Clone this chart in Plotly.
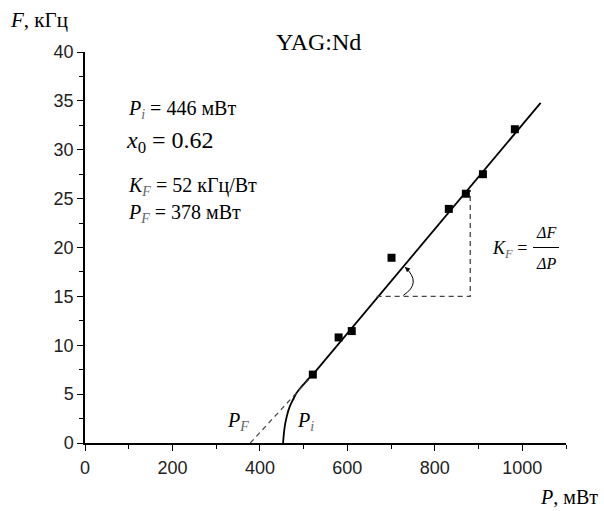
import plotly.graph_objects as go

# ---- data ----
P_data = [521, 580, 610, 701, 832, 871, 910, 983]          # mW
F_data = [7.0, 10.8, 11.45, 18.95, 23.95, 25.5, 27.5, 32.1]  # kHz

curve_P = [453, 455, 458, 463, 468, 476, 483, 492, 502, 512, 521]
curve_F = [0.0, 1.05, 2.0, 3.0, 3.7, 4.45, 5.05, 5.6, 6.1, 6.6, 7.0]
line_P = [521, 1042]
line_F = [7.0, 34.8]
dash_P = [378, 518]
dash_F = [0.0, 6.8]
tri_P = [667, 881, 881]
tri_F = [15.0, 15.0, 25.9]

x_ticks = [0, 200, 400, 600, 800, 1000]
y_ticks = [0, 5, 10, 15, 20, 25, 30, 35, 40]

W, H = 604, 511
ML, MR, MT, MB = 85, 38, 52, 68
XR = [0, 1100]
YR = [0, 40]
sx = (W - ML - MR) / (XR[1] - XR[0])
sy = (H - MT - MB) / (YR[1] - YR[0])

SERIF = "Liberation Serif, Times New Roman, serif"
SANS = "Liberation Sans, Arial, sans-serif"

fig = go.Figure()
fig.add_trace(go.Scatter(x=curve_P, y=curve_F, mode="lines",
                         line=dict(color="black", width=1.8, shape="spline"),
                         hoverinfo="skip", showlegend=False))
fig.add_trace(go.Scatter(x=line_P, y=line_F, mode="lines",
                         line=dict(color="black", width=1.8),
                         hoverinfo="skip", showlegend=False))
fig.add_trace(go.Scatter(x=dash_P, y=dash_F, mode="lines",
                         line=dict(color="#444", width=1.2, dash="5px,4px"),
                         hoverinfo="skip", showlegend=False))
fig.add_trace(go.Scatter(x=tri_P, y=tri_F, mode="lines",
                         line=dict(color="#444", width=1.3, dash="5px,4px"),
                         hoverinfo="skip", showlegend=False))
fig.add_trace(go.Scatter(x=P_data, y=F_data, mode="markers",
                         marker=dict(symbol="square", size=8, color="black"),
                         showlegend=False))

# angle arc (pixel offsets from vertex converted to data units)
vx, vy = tri_P[0], tri_F[0]
def pt(dx, dy):
    return vx + dx / sx, vy + dy / sy
A = pt(26.6, 1.0)
B = pt(36.6, 14.3)
C = pt(28.3, 29.3)
ctrl = (2 * B[0] - (A[0] + C[0]) / 2, 2 * B[1] - (A[1] + C[1]) / 2)
fig.add_shape(type="path",
              path=f"M {A[0]},{A[1]} Q {ctrl[0]},{ctrl[1]} {C[0]},{C[1]}",
              line=dict(color="black", width=1))
fig.add_annotation(x=C[0], y=C[1], ax=5.2, ay=4.7, text="", showarrow=True,
                   arrowhead=2, arrowsize=1, arrowwidth=1, standoff=0,
                   arrowcolor="black")

def txt(x, y, s, size=18, xanchor="left", yanchor="middle", xref="x", yref="y"):
    fig.add_annotation(x=x, y=y, text=s, showarrow=False, xref=xref, yref=yref,
                       xanchor=xanchor, yanchor=yanchor,
                       font=dict(family=SERIF, size=size, color="black"))

def ypx(py):
    return (H - MB - py) / sy

def xpx(px):
    return (px - ML) / sx

SUBC = "<span style='color:#666'>"
txt(xpx(126), ypx(109.5), f"<i>P</i><sub>{SUBC}<i>i</i></span></sub> = 446 мВт", 20)
txt(xpx(124), ypx(141.5), "<i>x</i><sub>0</sub> = 0.62", 24)
txt(xpx(126), ypx(186), f"<i>K</i><sub>{SUBC}<i>F</i></span></sub> = 52 кГц/Вт", 20)
txt(xpx(126), ypx(213), f"<i>P</i><sub>{SUBC}<i>F</i></span></sub> = 378 мВт", 20)

# K_F = dF/dP fraction
txt(xpx(490), ypx(249), f"<i>K</i><sub>{SUBC}<i>F</i></span></sub> =", 18)
txt(xpx(546), ypx(232), "<i>ΔF</i>", 16, xanchor="center")
txt(xpx(546), ypx(263), "<i>ΔP</i>", 16, xanchor="center")
fig.add_shape(type="line", x0=xpx(533), x1=xpx(559), y0=ypx(247.5), y1=ypx(247.5),
              line=dict(color="black", width=1))

# P_F and P_i labels near the curve
txt(xpx(238), ypx(421), f"<i>P</i><sub>{SUBC}<i>F</i></span></sub>", 20, xanchor="center")
txt(xpx(305), ypx(421), f"<i>P</i><sub>{SUBC}<i>i</i></span></sub>", 20, xanchor="center")

# outer labels
txt((8 - ML) / (W - ML - MR), (H - MB - 20) / (H - MT - MB), "<i>F</i>, кГц", 21,
    xref="paper", yref="paper")
txt((318 - ML) / (W - ML - MR), (H - MB - 42) / (H - MT - MB), "YAG:Nd", 24,
    xanchor="center", xref="paper", yref="paper")
txt((600 - ML) / (W - ML - MR), (H - MB - 497) / (H - MT - MB), "<i>P</i>, мВт", 20,
    xanchor="right", xref="paper", yref="paper")

axis_common = dict(showgrid=False, zeroline=False, showline=True, linecolor="black",
                   linewidth=1.5, ticks="outside", ticklen=6, tickwidth=1.2,
                   tickcolor="black",
                   tickfont=dict(family=SANS, size=18, color="#222"))
fig.update_xaxes(range=XR, tickvals=x_ticks, ticktext=[str(v) for v in x_ticks],
                 ticklabelstandoff=2,
                 minor=dict(dtick=100, tick0=0, ticks="outside", ticklen=4,
                            tickcolor="black", tickwidth=1.2),
                 **axis_common)
fig.update_yaxes(range=YR, tickvals=y_ticks, ticktext=[str(v) for v in y_ticks],
                 minor=dict(dtick=2.5, tick0=0, ticks="outside", ticklen=4,
                            tickcolor="black", tickwidth=1.2),
                 **axis_common)

fig.update_layout(width=W, height=H, margin=dict(l=ML, r=MR, t=MT, b=MB, autoexpand=False),
                  plot_bgcolor="white", paper_bgcolor="white", showlegend=False)

fig.write_html("out.html", config={"displayModeBar": False},
               post_script="document.body.style.margin='0';document.body.style.padding='0';")
